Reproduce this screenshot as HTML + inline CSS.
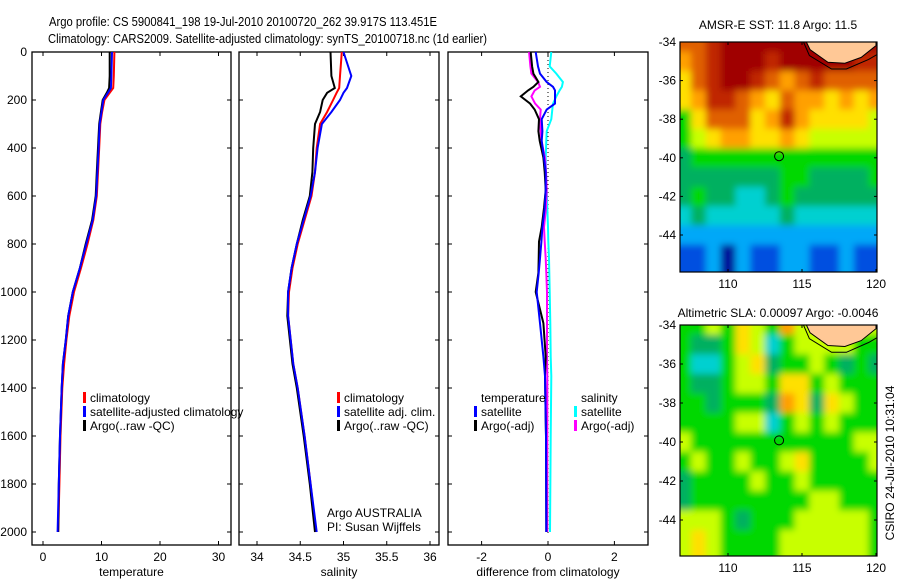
<!DOCTYPE html>
<html><head><meta charset="utf-8">
<style>
html,body{margin:0;padding:0;background:#fff;}
svg{display:block;font-family:"Liberation Sans",sans-serif;}
text{font-size:12px;fill:#000;}
</style></head>
<body>
<svg id="fig" width="900" height="580" viewBox="0 0 900 580" xmlns="http://www.w3.org/2000/svg">
<defs><filter id="smooth" x="-10%" y="-10%" width="120%" height="120%"><feGaussianBlur stdDeviation="3.5" edgeMode="duplicate"/></filter></defs>
<rect width="900" height="580" fill="#fff"/>
<text x="49" y="26" style="font-size:13px" textLength="388" lengthAdjust="spacingAndGlyphs">Argo profile: CS 5900841_198 19-Jul-2010 20100720_262 39.917S 113.451E</text>
<text x="48" y="43" style="font-size:13px" textLength="439" lengthAdjust="spacingAndGlyphs">Climatology: CARS2009. Satellite-adjusted climatology: synTS_20100718.nc (1d earlier)</text>
<g id="g"></g>
</svg>
<script>
// ---- profile data ----
const depths = [0,100,150,170,200,250,300,400,500,600,700,800,900,1000,1100,1200,1300,1400,1600,1800,2000];
const tempArgo = [11.4,11.4,11.3,10.9,10.2,9.9,9.6,9.4,9.2,9.0,8.4,7.3,6.3,5.1,4.3,3.9,3.4,3.2,2.9,2.7,2.6];
const tempClim = [12.2,12.1,12.0,11.4,10.5,10.1,9.8,9.6,9.4,9.2,8.6,7.6,6.5,5.3,4.5,4.0,3.6,3.3,3.0,2.8,2.6];
const tempSat = [11.8,11.7,11.6,11.1,10.3,10.0,9.7,9.5,9.3,9.1,8.5,7.4,6.3,5.1,4.3,3.9,3.4,3.2,2.9,2.7,2.5];
const salArgo = [34.85,34.86,34.90,34.81,34.76,34.73,34.67,34.65,34.64,34.61,34.53,34.46,34.40,34.36,34.35,34.38,34.41,34.46,34.54,34.61,34.67];
const salClim = [34.98,34.96,34.95,34.92,34.88,34.81,34.73,34.69,34.67,34.63,34.55,34.47,34.41,34.37,34.36,34.39,34.42,34.47,34.55,34.62,34.68];
const salSat = [35.00,35.09,35.04,35.00,34.96,34.86,34.75,34.70,34.67,34.62,34.54,34.46,34.40,34.36,34.36,34.39,34.42,34.47,34.55,34.62,34.69];
const diffDepths = [0,60,90,125,145,160,185,215,240,280,330,370,440,500,575,650,730,790,860,920,1000,1130,1270,1350,1600,2000];
const diffTempSat = [-0.37,-0.30,-0.24,-0.04,0.15,0.21,0.21,0.21,-0.04,-0.19,-0.17,-0.19,-0.12,-0.07,-0.07,-0.10,-0.17,-0.20,-0.24,-0.28,-0.34,-0.24,-0.14,-0.09,-0.06,-0.05];
const diffTempArgo = [-0.52,-0.48,-0.44,-0.29,-0.44,-0.60,-0.82,-0.54,-0.40,-0.27,-0.29,-0.25,-0.14,-0.10,-0.07,-0.12,-0.19,-0.27,-0.28,-0.29,-0.37,-0.14,-0.07,-0.09,-0.06,-0.05];
const diffSalArgo = [-0.57,-0.53,-0.50,-0.30,-0.24,-0.40,-0.50,-0.39,-0.22,-0.24,-0.22,-0.20,-0.09,-0.06,-0.04,-0.06,-0.12,-0.10,-0.07,-0.05,-0.03,-0.03,-0.03,-0.02,-0.02,-0.02];
const diffSalSat = [0.10,0.05,0.25,0.45,0.42,0.35,0.25,0.15,0.13,0.10,-0.04,-0.05,-0.07,-0.06,-0.04,-0.02,0.00,0.01,0.03,0.04,0.05,0.07,0.08,0.10,0.08,0.06];
const depthTicks = [0,200,400,600,800,1000,1200,1400,1600,1800,2000];
const tempTicks = [0,10,20,30];
const salTicks = [34,34.5,35,35.5,36];
const salTickLabels = ["34","34.5","35","35.5","36"];
const diffTicks = [-2,0,2];
// ---- map data (colour level 0..11) ----
const mapLons = [107,108,109,110,111,112,113,114,115,116,117,118,119,120];
const mapLats = [-34,-35,-36,-37,-38,-39,-40,-41,-42,-43,-44,-45];
const sstLevels = [
[9,9,10,11,11,11,11,11,11,11,11,11,11,11],
[8,9,10,11,11,11,10,11,11,11,11,11,10,10],
[7,9,10,11,11,10,9,8,9,10,9,9,9,9],
[7,8,10,10,9,8,7,9,8,8,7,8,7,8],
[5,7,9,9,9,7,8,10,8,7,7,7,7,6],
[5,6,7,8,8,7,7,8,7,6,6,6,6,6],
[4,5,5,5,5,5,5,5,5,5,5,5,5,5],
[4,4,4,4,4,4,4,5,5,4,4,4,4,5],
[4,5,4,4,3,3,4,5,4,4,4,4,4,4],
[3,4,3,3,3,3,3,4,3,3,3,3,3,3],
[2,2,2,2,2,2,2,2,2,2,2,2,2,2],
[1,1,2,0,2,1,1,2,2,1,1,2,1,1]];
const slaLevels = [
[5,5,6,5,7,6,5,8,6,6,6,6,6,6],
[5,4,4,5,7,6,3,5,6,6,6,6,5,5],
[5,3,3,5,6,7,4,5,5,6,5,4,5,4],
[5,4,4,5,6,6,5,7,7,5,6,5,5,5],
[5,5,4,5,5,5,4,8,7,4,7,6,5,5],
[5,5,5,5,6,6,3,5,6,5,6,5,5,5],
[6,5,5,5,5,5,5,5,5,5,5,5,6,6],
[5,6,5,5,6,5,5,6,7,5,5,5,5,6],
[4,5,5,5,5,6,5,5,6,5,5,5,5,5],
[4,5,5,5,5,5,5,5,5,6,6,5,5,5],
[6,6,6,5,4,5,5,5,6,6,6,6,6,5],
[6,7,6,5,5,5,5,6,6,6,6,6,6,5]];
const landLon = [115.3,115.55,116.75,117.9,119.0,119.9,120.3,120.3];
const landLat = [-34,-34.4,-35.05,-35.1,-34.8,-34.25,-34,-33];
const coastLon = [115.1,115.5,117.0,118.0,119.5,120.3];
const coastLat = [-34,-34.7,-35.4,-35.4,-34.9,-34.55];
const floatLon = 113.451, floatLat = -39.917;
const mapLatTicks = [-34,-36,-38,-40,-42,-44];
const mapLonTicks = [110,115,120];

const NS="http://www.w3.org/2000/svg";
const G=document.getElementById('g');
function mk(tag,attrs,parent){const e=document.createElementNS(NS,tag);for(const k in attrs)e.setAttribute(k,attrs[k]);(parent||G).appendChild(e);return e;}
function txt(x,y,s,anchor,parent){const t=mk('text',{x:x,y:y,'text-anchor':anchor||'start'},parent);t.textContent=s;return t;}

const yTop=52,yBot=545;
function yD(d){return 52+d*0.24;}

function panel(name,x0,x1,xs,ticks,labels,xlabel,showDepthLabels){
  const g=mk('g',{});
  
  
  const fr=mk('rect',{x:x0,y:yTop,width:x1-x0,height:yBot-yTop,fill:'none',stroke:'#000','stroke-width':1.3},g);
  
  
  depthTicks.forEach((d,i)=>{
    mk('line',{x1:x0,y1:yD(d),x2:x0+4,y2:yD(d),stroke:'#000'},g);
    mk('line',{x1:x1,y1:yD(d),x2:x1-4,y2:yD(d),stroke:'#000'},g);
    if(showDepthLabels){const t=txt(x0-5,yD(d)+4,String(d),'end',g);
      
      }
  });
  ticks.forEach((v,i)=>{
    const x=xs(v);
    mk('line',{x1:x,y1:yBot,x2:x,y2:yBot-4,stroke:'#000'},g);
    mk('line',{x1:x,y1:yTop,x2:x,y2:yTop+4,stroke:'#000'},g);
    const t=txt(x,561,labels[i],'middle',g);
    
    
  });
  const xl=txt((x0+x1)/2,576,xlabel,'middle',g);
  
  
  return g;
}
function series(g,xs,dep,vals,color,name){
  const pts=dep.map((d,i)=>xs(vals[i]).toFixed(1)+','+yD(d).toFixed(1)).join(' ');
  const p=mk('polyline',{points:pts,fill:'none',stroke:color,'stroke-width':2},g);
  
  
}
function legend(g,x,y,color,label,name){
  const r=mk('rect',{x:x,y:y-10,width:3,height:11,fill:color},g);
  
  
  const t=txt(x+7,y,label,'start',g);
  
  
}

// temperature panel
const xT=v=>43+v*5.85;
const pT=panel('temperature-panel',32,231,xT,tempTicks,tempTicks.map(String),'temperature',true);
series(pT,xT,depths,tempClim,'#ff0000','temp-climatology-line');
series(pT,xT,depths,tempArgo,'#000000','temp-argo-line');
series(pT,xT,depths,tempSat,'#0000ff','temp-satellite-line');
legend(pT,83,402,'#ff0000','climatology','legend-climatology');
legend(pT,83,416,'#0000ff','satellite-adjusted climatology','legend-satellite-adjusted');
legend(pT,83,430,'#000000','Argo(..raw -QC)','legend-argo');

// salinity panel
const xS=v=>257+(v-34)*86.5;
const pS=panel('salinity-panel',239,439,xS,salTicks,salTickLabels,'salinity',false);
series(pS,xS,depths,salClim,'#ff0000','sal-climatology-line');
series(pS,xS,depths,salArgo,'#000000','sal-argo-line');
series(pS,xS,depths,salSat,'#0000ff','sal-satellite-line');
legend(pS,337,402,'#ff0000','climatology','legend-sal-climatology');
legend(pS,337,416,'#0000ff','satellite adj. clim.','legend-sal-satellite');
legend(pS,337,430,'#000000','Argo(..raw -QC)','legend-sal-argo');
let t1=txt(327,517,'Argo AUSTRALIA','start',pS);


let t2=txt(327,531,'PI: Susan Wijffels','start',pS);



// difference panel
const xDf=v=>548+v*33.2;
const pD=panel('difference-panel',448,648,xDf,diffTicks,diffTicks.map(String),'difference from climatology',false);
const zl=mk('line',{x1:xDf(0),y1:yTop,x2:xDf(0),y2:yBot-12,stroke:'#000','stroke-dasharray':'1,3'},pD);


series(pD,xDf,diffDepths,diffSalSat,'#00ffff','diff-sal-satellite-line');
series(pD,xDf,diffDepths,diffSalArgo,'#ff00ff','diff-sal-argo-line');
series(pD,xDf,diffDepths,diffTempArgo,'#000000','diff-temp-argo-line');
series(pD,xDf,diffDepths,diffTempSat,'#0000ff','diff-temp-satellite-line');
let t3=txt(481,402,'temperature','start',pD);


let t4=txt(581,402,'salinity','start',pD);


legend(pD,474,416,'#0000ff','satellite','legend-temp-satellite');
legend(pD,474,430,'#000000','Argo(-adj)','legend-temp-argo');
legend(pD,574,416,'#00ffff','satellite','legend-sal-satellite-diff');
legend(pD,574,430,'#ff00ff','Argo(-adj)','legend-sal-argo-diff');

// maps
const cmap=['#00109a','#0050e0','#00a8f8','#00d0d0','#00b060','#00d800','#c8ff00','#ffe000','#ffa000','#e06000','#c02800','#a00000'];
function drawMap(name,top,bottom,levels,title,titleY,id){
  const x0=680,x1=877;
  const ppdX=14.8, ppdY=(bottom===272)?19.3:19.5;
  const lonX=l=>876-(120-l)*ppdX;
  const latY=l=>top+(-34-l)*ppdY;
  const g=mk('g',{});
  
  
  const cp=mk('clipPath',{id:id},g);
  mk('rect',{x:x0,y:top,width:x1-x0,height:bottom-top},cp);
  const clipG=mk('g',{'clip-path':'url(#'+id+')'},g);
  const cells=mk('g',{filter:'url(#smooth)'},clipG);
  const nR=levels.length;
  levels.forEach((row,r)=>row.forEach((v,c)=>{
    let xa=lonX(mapLons[c]-0.5), ya=latY(mapLats[r]+0.5);
    let w=ppdX+0.5, h=ppdY+0.5;
    if(c===0){xa-=12;w+=12;}
    if(c===row.length-1){w+=12;}
    if(r===0){ya-=12;h+=12;}
    if(r===nR-1){h+=20;}
    const e=mk('rect',{x:xa.toFixed(1),y:ya.toFixed(1),width:w.toFixed(1),height:h.toFixed(1),fill:cmap[v]},cells);
    
    
  }));
  const land=mk('polygon',{points:landLon.map((l,i)=>lonX(l).toFixed(1)+','+latY(landLat[i]).toFixed(1)).join(' '),fill:'#ffc896',stroke:'#000','stroke-width':1},clipG);
  
  
  const coast=mk('polyline',{points:coastLon.map((l,i)=>lonX(l).toFixed(1)+','+latY(coastLat[i]).toFixed(1)).join(' '),fill:'none',stroke:'#000','stroke-width':1},clipG);
  
  
  const c=mk('circle',{cx:lonX(floatLon),cy:latY(floatLat),r:4.5,fill:'none',stroke:'#000','stroke-width':1},g);
  
  
  const fr=mk('rect',{x:x0,y:top,width:x1-x0,height:bottom-top,fill:'none',stroke:'#000','stroke-width':1.2},g);
  
  
  mapLatTicks.forEach(l=>{
    const y=latY(l);
    mk('line',{x1:x0,y1:y,x2:x0+3,y2:y,stroke:'#000'},g);
    mk('line',{x1:x1,y1:y,x2:x1-3,y2:y,stroke:'#000'},g);
    const t=txt(676,y+4,String(l),'end',g);
    
    
  });
  mapLonTicks.forEach(l=>{
    const x=lonX(l);
    mk('line',{x1:x,y1:bottom,x2:x,y2:bottom-3,stroke:'#000'},g);
    mk('line',{x1:x,y1:top,x2:x,y2:top+3,stroke:'#000'},g);
    const t=txt(x,bottom+16,String(l),'middle',g);
    
    
  });
  const tt=txt(778,titleY,title,'middle',g);
  
  
}
drawMap('sst-map',42,272,sstLevels,'AMSR-E SST: 11.8 Argo: 11.5',29,'clipA');
drawMap('sla-map',325,556,slaLevels,'Altimetric SLA: 0.00097 Argo: -0.0046',317,'clipB');
const rt=txt(0,0,'CSIRO 24-Jul-2010 10:31:04','middle');
rt.setAttribute('transform','translate(894,463) rotate(-90)');


</script>
</body></html>
